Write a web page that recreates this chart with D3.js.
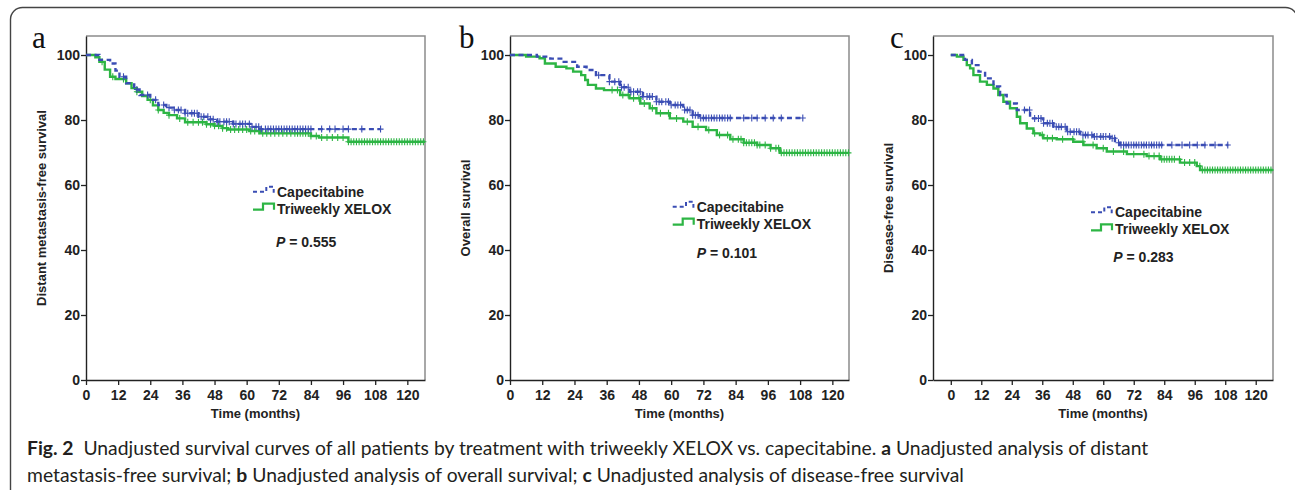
<!DOCTYPE html>
<html>
<head>
<meta charset="utf-8">
<script src="https://cdn.jsdelivr.net/npm/d3@7"></script>
<style>
body { margin: 0; background: #fff; }
svg { display: block; }
</style>
</head>
<body>
<svg id="chart" width="1295" height="490"></svg>
<script>
// axis ticks
const monthTicks = [0, 12, 24, 36, 48, 60, 72, 84, 96, 108, 120];
const pctTicks = [0, 20, 40, 60, 80, 100];

const panelLetters = ["a", "b", "c"];
const yTitles = ["Distant metastasis-free survival", "Overall survival", "Disease-free survival"];
const pValues = ["0.555", "0.101", "0.283"];
const groupNames = ["Capecitabine", "Triweekly XELOX"];

// Kaplan-Meier steps [month, survival %]
const dmfsCape = [[0,100],[5,98.5],[9,97.4],[11,95.2],[12.5,93.3],[15,91.3],[18,89.4],[20,87.7],[24,86.2],[27,84.6],[30,83.8],[33,83.1],[37,82.1],[42,81.0],[46,80.2],[49,79.5],[55,78.8],[62,77.9],[65,77.2],[110,77.2]];
const dmfsXelox = [[0,100],[3.5,99.3],[5,97.9],[7,95.5],[9,93.3],[11,92.6],[15,91.3],[17,89.8],[19,88.7],[21,87.4],[23,86.2],[25,84.5],[27,83.1],[29,82.2],[31,81.5],[34,80.5],[37,79.3],[45,78.7],[48,78.2],[51,77.5],[53,77.1],[61,76.6],[65,75.9],[84,75.1],[87,74.6],[98,73.3],[126.6,73.3]];
const osCape = [[0,100],[10,99.5],[15,98.9],[20,97.9],[25,96.4],[28.5,95.4],[32,93.8],[37,91.8],[41,90.1],[44.5,88.7],[49.5,87.2],[54.5,85.6],[59.5,84.6],[64.5,83.1],[68,81.5],[70.5,80.6],[109.3,80.6]];
const osXelox = [[0,100],[6,99.5],[11,99.0],[13,97.4],[17,96.4],[21,95.9],[23.5,94.9],[26.5,93.8],[28,92.3],[29,90.8],[32,89.7],[35,89.2],[41,87.7],[44.5,86.7],[48.5,85.1],[52,83.6],[54.5,82.1],[59.5,80.5],[64.5,79.5],[68,77.9],[73,76.9],[77,75.4],[82,74.1],[87,73.0],[92,72.3],[97,71.3],[100.5,69.9],[126.2,69.9]];
const dfsCape = [[0,100],[5.6,98.5],[8.3,96.9],[10.9,94.9],[13.5,92.8],[16.8,90.3],[19.4,87.7],[22,85.1],[26,83.1],[31.2,80.5],[36.4,79.0],[40.4,77.9],[45.6,76.4],[50.9,75.4],[56.1,74.9],[62.7,74.4],[64.6,73.0],[66.6,72.3],[109.2,72.3]];
const dfsXelox = [[0,100],[2.4,99.5],[5,98.5],[6.3,96.9],[7.6,95.9],[8.9,93.8],[11.5,91.8],[14.2,90.8],[16.8,89.7],[18.7,87.7],[20.7,85.6],[23.3,83.6],[26,81.0],[27.3,79.0],[29.9,77.4],[32.5,75.9],[35.1,75.4],[36.4,74.4],[41.7,74.1],[48.2,73.3],[52.2,72.3],[57.4,71.3],[61.4,70.3],[69.3,69.5],[77.1,68.9],[82.3,67.9],[90.2,66.9],[96.8,65.8],[98.1,64.6],[126.8,64.6]];

// censored times (months)
const dmfsCapeCens = [14,19,23,26,29,31,33,34.5,35.5,37,38,39.5,40.5,41.5,43,44,45.5,46.5,47.5,49,50,51.5,52.5,53.5,55,56,57.5,58.5,59.5,61,62,63.5,64.5,65.5,67,68,69,70,71,72,73,74,75,76,77,78,79,80,81,82,83,84,88,91,93,96,98,103,110];
const dmfsXeloxCens = [6,10,14,19,24,27,31,35,38,40,42,43.5,45,46.5,48,49.5,51,52.5,54,55.5,57,58.5,60,61.5,63,64.5,66,67.5,69,70.5,72,73.5,75,76.5,78,79,80,81,82,83,84,86,88,90,92,94,96,98,99,100,101,102,103,104,105,106,107,108,109,110,111,112,113,114,115,116,117,118,119,120,121,122,123,124,125,126];
const osCapeCens = [33,37,39,40.5,41.5,42.5,44,45,46,47.5,48.5,49.5,51,52,53,54.5,55.5,56.5,58,59,60,61.5,62.5,63.5,65,66,67,68,69,70,71,72,73,74,75,76,77,78,79,80,81,82,87,90,92,95,98,101,109];
const osXeloxCens = [38,40,42,44,46,48,50,53,56,59,62,66,70,74,78,81,83,85,86,87,88,89,90,91,92,93,95,97,99,100,101,102,103,104,105,106,107,108,109,110,111,112,113,114,115,116,117,118,119,120,121,122,123,124,125,126];
const dfsCapeCens = [29,31,33,34.5,35.5,36.5,38,39,40,41.5,42.5,43.5,45,46,47,48.5,49.5,50.5,52,53,54,55.5,56.5,57.5,59,60,61,62.5,63.5,64.5,66,67,68,69,70,71,72,73,74,75,76,77,78,79,80,81,82,83,87,91,94,97,100,104,109];
const dfsXeloxCens = [33,36,38,40,44,48,52,56,60,64,68,72,76,78,80,82,83,84,85,86,87,88,90,92,94,96,98,99,100,101,102,103,104,105,106,107,108,109,110,111,112,113,114,115,116,117,118,119,120,121,122,123,124,125,126];

const capeSteps = [dmfsCape, osCape, dfsCape];
const xeloxSteps = [dmfsXelox, osXelox, dfsXelox];
const capeCens = [dmfsCapeCens, osCapeCens, dfsCapeCens];
const xeloxCens = [dmfsXeloxCens, osXeloxCens, dfsXeloxCens];

// layout of the three plots
const panels = [
  {left: 86, right: 425, tMin: 0, tMax: 126.6, letterX: 32, legX: 253, legY: 191.7, pX: 276, pY: 241.7},
  {left: 510, right: 849, tMin: 0, tMax: 126.2, letterX: 459, legX: 672.7, legY: 206.7, pX: 696.7, pY: 253.3},
  {left: 933, right: 1273, tMin: -7, tMax: 126.8, letterX: 890, legX: 1091, legY: 212.3, pX: 1113.3, pY: 257.3}
];
const plotTop = 36, plotBottom = 380;

const blue = "#3a4db4", green = "#2db544";
const sans = "'Liberation Sans', Arial, sans-serif";

const svg = d3.select("#chart");

// rounded frame round the whole figure
svg.append("rect")
  .attr("x", 10.5).attr("y", 7.5)
  .attr("width", 1287).attr("height", 520)
  .attr("rx", 12)
  .attr("fill", "none")
  .attr("stroke", "#444")
  .attr("stroke-width", 1.4);

function survivalAt(steps, t) {
  let v = steps[0][1];
  steps.forEach(d => { if (d[0] <= t) v = d[1]; });
  return v;
}

panels.forEach((p, i) => {
  const x = d3.scaleLinear().domain([p.tMin, p.tMax]).range([p.left, p.right]);
  const y = d3.scaleLinear().domain([0, 105.85]).range([plotBottom, plotTop]);
  const g = svg.append("g");

  // grey top and right border
  g.append("path")
    .attr("d", `M${p.left},${plotTop}H${p.right}V${plotBottom}`)
    .attr("fill", "none")
    .attr("stroke", "#8c8c8c")
    .attr("stroke-width", 1.5);

  const xAxis = g.append("g")
    .attr("transform", `translate(0,${plotBottom})`)
    .call(d3.axisBottom(x).tickValues(monthTicks).tickSize(5).tickPadding(5).tickSizeOuter(0));
  const yAxis = g.append("g")
    .attr("transform", `translate(${p.left},0)`)
    .call(d3.axisLeft(y).tickValues(pctTicks).tickSize(5).tickPadding(1).tickSizeOuter(0));

  [xAxis, yAxis].forEach(ax => {
    ax.select(".domain").attr("stroke", "#222").attr("stroke-width", 1.4);
    ax.selectAll(".tick line").attr("stroke", "#222").attr("stroke-width", 1.3);
    ax.selectAll(".tick text")
      .attr("fill", "#222")
      .attr("font-family", sans)
      .attr("font-weight", "bold")
      .attr("font-size", 14);
  });

  const line = d3.line()
    .x(d => x(d[0]))
    .y(d => y(d[1]))
    .curve(d3.curveStepAfter);

  const series = [
    {steps: xeloxSteps[i], cens: xeloxCens[i], color: green, dash: null},
    {steps: capeSteps[i], cens: capeCens[i], color: blue, dash: "5,3.5"}
  ];

  series.forEach(s => {
    g.append("path")
      .datum(s.steps)
      .attr("d", line)
      .attr("fill", "none")
      .attr("stroke", s.color)
      .attr("stroke-width", 2.4)
      .attr("stroke-dasharray", s.dash);

    g.append("g").selectAll("path")
      .data(s.cens)
      .enter().append("path")
      .attr("d", t => {
        const cx = x(t), cy = y(survivalAt(s.steps, t));
        return `M${cx - 3},${cy}h6M${cx},${cy - 3.5}v7`;
      })
      .attr("stroke", s.color)
      .attr("stroke-width", 1.1)
      .attr("fill", "none");
  });

  // axis titles
  g.append("text")
    .attr("transform", `translate(${p.left - 44.5},${(plotTop + plotBottom) / 2}) rotate(-90)`)
    .attr("text-anchor", "middle")
    .attr("dy", "0.35em")
    .attr("font-family", sans)
    .attr("font-weight", "bold")
    .attr("font-size", 13)
    .attr("fill", "#222")
    .text(yTitles[i]);

  g.append("text")
    .attr("x", (p.left + p.right) / 2)
    .attr("y", 418)
    .attr("text-anchor", "middle")
    .attr("font-family", sans)
    .attr("font-weight", "bold")
    .attr("font-size", 13)
    .attr("fill", "#222")
    .text("Time (months)");

  g.append("text")
    .attr("x", p.letterX)
    .attr("y", 47.5)
    .attr("font-family", "'Liberation Serif', 'Times New Roman', serif")
    .attr("font-size", 31)
    .attr("fill", "#111")
    .text(panelLetters[i]);

  // legend
  const lx = p.legX, ly = p.legY;
  g.append("path")
    .attr("d", `M${lx},${ly}H${lx + 13.3}V${ly - 5}H${lx + 20.7}V${ly + 1}`)
    .attr("fill", "none")
    .attr("stroke", blue)
    .attr("stroke-width", 2)
    .attr("stroke-dasharray", "4,3");
  const ly2 = ly + 17;
  g.append("path")
    .attr("d", `M${lx},${ly2 + 1}H${lx + 10}V${ly2 - 5}H${lx + 21}V${ly2 + 1}`)
    .attr("fill", "none")
    .attr("stroke", green)
    .attr("stroke-width", 2.2);

  groupNames.forEach((name, k) => {
    g.append("text")
      .attr("x", lx + 24)
      .attr("y", ly + k * 17)
      .attr("dy", "0.36em")
      .attr("font-family", sans)
      .attr("font-weight", "bold")
      .attr("font-size", 14)
      .attr("fill", "#222")
      .text(name);
  });

  const pt = g.append("text")
    .attr("x", p.pX)
    .attr("y", p.pY)
    .attr("dy", "0.36em")
    .attr("font-family", sans)
    .attr("font-weight", "bold")
    .attr("font-size", 14)
    .attr("fill", "#222");
  pt.append("tspan").attr("font-style", "italic").text("P");
  pt.append("tspan").text(" = " + pValues[i]);
});

// caption
const capLines = [
  [["Fig. 2", true], ["  Unadjusted survival curves of all patients by treatment with triweekly XELOX vs. capecitabine. ", false], ["a", true], [" Unadjusted analysis of distant", false]],
  [["metastasis-free survival; ", false], ["b", true], [" Unadjusted analysis of overall survival; ", false], ["c", true], [" Unadjusted analysis of disease-free survival", false]]
];
const capTexts = capLines.map((parts, k) => {
  const t = svg.append("text")
    .attr("x", 27)
    .attr("y", 454.5 + k * 27)
    .attr("font-family", "Lato, 'Open Sans', sans-serif")
    .attr("font-size", 17)
    .attr("fill", "#231f20")
    .style("white-space", "pre");
  parts.forEach(([s, bold]) => {
    t.append("tspan").attr("font-weight", bold ? "bold" : "normal").text(s);
  });
  return t;
});
// fit the first caption line to its width in the figure
const w1 = capTexts[0].node().getComputedTextLength();
const fs = 17 * 1122 / w1;
capTexts.forEach(t => t.attr("font-size", fs));
</script>
</body>
</html>
